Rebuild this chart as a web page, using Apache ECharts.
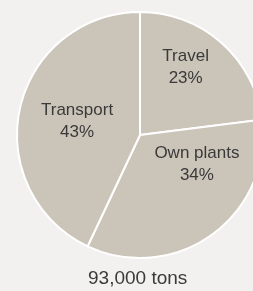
<!DOCTYPE html>
<html>
<head>
<meta charset="utf-8">
<script src="https://cdn.jsdelivr.net/npm/echarts@6/dist/echarts.min.js"></script>
<style>
  html, body { margin: 0; padding: 0; background: #f2f1ef; }
  #chart { width: 253px; height: 291px; }
</style>
</head>
<body>
<div id="chart"></div>
<script>
const categories = ['Travel', 'Own plants', 'Transport'];
const shares = [23, 34, 43];
const total = '93,000 tons';
// nudges so the labels sit where the original placed them
const labelOffsets = [[3, -19], [19, -23], [0, 0]];

const chart = echarts.init(document.getElementById('chart'), null, { renderer: 'canvas' });

chart.setOption({
    backgroundColor: '#f2f1ef',
    animation: false,
    title: {
        text: total,
        left: 88,
        top: 268,
        padding: 0,
        textStyle: {
            fontFamily: 'Liberation Sans',
            fontSize: 19,
            fontWeight: 'normal',
            lineHeight: 22,
            color: '#3a3a3a'
        }
    },
    series: [{
        type: 'pie',
        center: [140, 135],
        radius: 123,
        startAngle: 90,
        clockwise: true,
        silent: true,
        itemStyle: {
            color: '#cbc4b9',
            borderColor: '#ffffff',
            borderWidth: 2
        },
        label: {
            position: 'inside',
            formatter: '{b}\n{c}%',
            fontFamily: 'Liberation Sans',
            fontSize: 17,
            lineHeight: 22,
            color: '#3a3a3a'
        },
        labelLine: { show: false },
        data: categories.map((name, i) => ({
            name: name,
            value: shares[i],
            label: { offset: labelOffsets[i] }
        }))
    }]
});
</script>
</body>
</html>
